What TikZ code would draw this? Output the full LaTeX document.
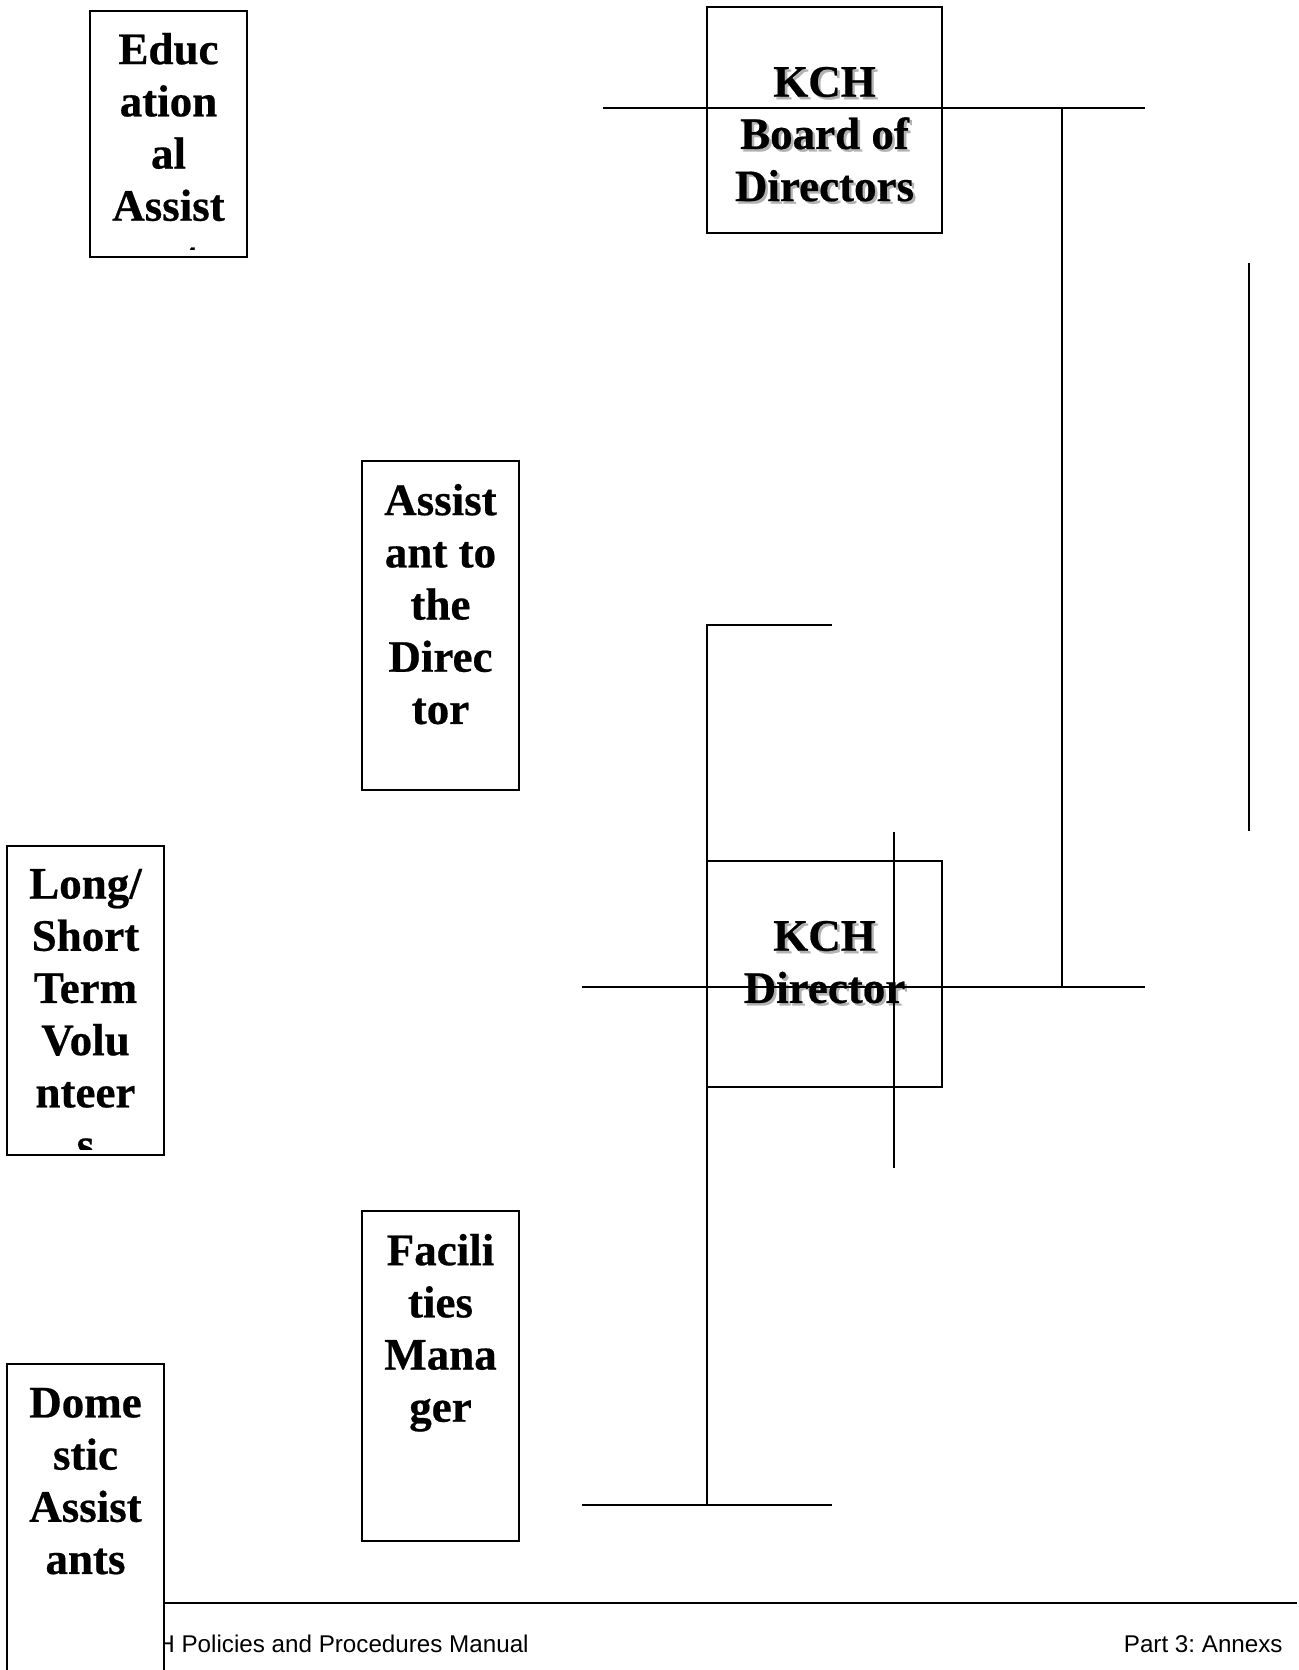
\documentclass[tikz,border=0pt]{standalone}
\usepackage{fontspec}
\setmainfont{Liberation Serif}
\setsansfont{Liberation Sans}
\newfontfamily\chartFont[BoldFeatures={FakeBold=0.5}]{Liberation Serif}
\frenchspacing
\tikzstyle{page} = [x = 0.5pt, y = -0.5pt]
\tikzstyle{boxStyle} = [draw=black, fill=white, line width=.9pt, inner sep=0pt]
\tikzstyle{chartLine} = [color=black, line width=1pt]
\tikzstyle{boxText} = [font=\chartFont\fontsize{22.5}{26.1}\selectfont\bfseries, align=center, inner sep=0pt, anchor=north]
\tikzstyle{shadowText} = [boxText, text=black!30]
\tikzstyle{footerText} = [font=\sffamily\fontsize{12.1}{14}\selectfont, inner sep=0pt]
\newcommand{\orgBox}[8]{
  \pgfmathsetmacro{\boxWidth}{(#4 - #2) / 2}
  \pgfmathsetmacro{\boxHeight}{(#5 - #3) / 2}
  \node [boxStyle, minimum width=\boxWidth pt, minimum height=\boxHeight pt] (#1) at ({(#2 + #4) / 2}, {(#3 + #5) / 2}) {};
  \begin{scope}
    \clip (#2 + 3, #3 + 3) rectangle (#4 - 3, #7);
    \node [boxText] (#1Text) at ({(#2 + #4) / 2}, #6) {#8};
  \end{scope}
}
\newcommand{\kchBox}[7]{
  \pgfmathsetmacro{\boxWidth}{(#4 - #2) / 2}
  \pgfmathsetmacro{\boxHeight}{(#5 - #3) / 2}
  \node [boxStyle, minimum width=\boxWidth pt, minimum height=\boxHeight pt] (#1) at ({(#2 + #4) / 2}, {(#3 + #5) / 2}) {};
  \node [shadowText] (#1Shadow) at ({(#2 + #4) / 2 + 2.5}, #6 + 2.5) {#7};
  \node [boxText] (#1Text) at ({(#2 + #4) / 2}, #6) {#7};
}
\begin{document}
\begin{tikzpicture}[page]
  \useasboundingbox (0, 0) rectangle (1299, 1670);
  \clip (0, 0) rectangle (1299, 1670);

  \coordinate (footerWest) at (164, 1603);
  \coordinate (footerEast) at (1297, 1603);
  \draw [chartLine] (footerWest) -- (footerEast);
  \node [footerText, anchor=base west] (footerLeft) at (157, 1652) {H Policies and Procedures Manual};
  \node [footerText, anchor=base east] (footerRight) at (1283, 1652) {Part 3: Annexs};

  \orgBox{educational}{90}{11}{247}{257}{32.5}{249}{Educ\\ation\\al\\Assist\\ant}
  \orgBox{assistant}{362}{461}{519}{790}{483.5}{784}{Assist\\ant to\\the\\Direc\\tor}
  \orgBox{volunteers}{7}{846}{164}{1155}{868.5}{1149}{Long/\\Short\\Term\\Volu\\nteer\\s}
  \orgBox{facilities}{362}{1211}{519}{1541}{1233.5}{1535}{Facili\\ties\\Mana\\ger}
  \orgBox{domestic}{7}{1364}{164}{1700}{1387.5}{1700}{Dome\\stic\\Assist\\ants}
  \kchBox{board}{707}{7}{942}{233}{66.5}{KCH\\Board of\\Directors}
  \kchBox{director}{707}{861}{942}{1087}{920.5}{KCH\\Director}

  \coordinate (boardWest) at (603, 108);
  \coordinate (boardEast) at (1145, 108);
  \coordinate (boardDrop) at (1062, 108);
  \coordinate (directorWest) at (582, 987);
  \coordinate (directorEast) at (1145, 987);
  \coordinate (directorJoin) at (1062, 987);
  \coordinate (sideTop) at (1249, 263);
  \coordinate (sideBottom) at (1249, 831);
  \coordinate (bracketTip) at (832, 625);
  \coordinate (bracketCorner) at (707, 625);
  \coordinate (bracketFoot) at (707, 1505);
  \coordinate (staffWest) at (582, 1505);
  \coordinate (staffEast) at (832, 1505);
  \coordinate (crossTop) at (894, 832);
  \coordinate (crossBottom) at (894, 1168);

  \draw [chartLine] (boardWest) -- (boardEast);
  \draw [chartLine] (boardDrop) -- (directorJoin);
  \draw [chartLine] (directorWest) -- (directorEast);
  \draw [chartLine] (sideTop) -- (sideBottom);
  \draw [chartLine] (bracketTip) -- (bracketCorner) -- (bracketFoot);
  \draw [chartLine] (staffWest) -- (staffEast);
  \draw [chartLine] (crossTop) -- (crossBottom);
\end{tikzpicture}
\end{document}
